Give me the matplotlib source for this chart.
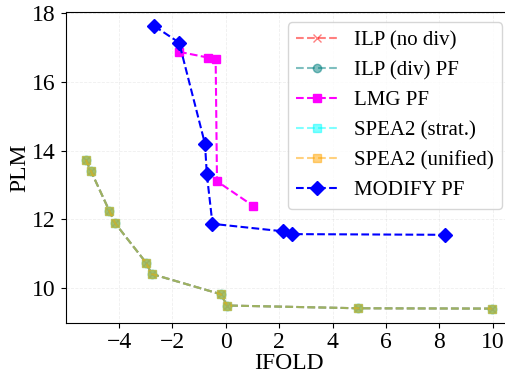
"""Recreate the PLM vs IFOLD Pareto-front comparison chart."""
import matplotlib
matplotlib.use("Agg")
import matplotlib.pyplot as plt

# shared front for the ILP / SPEA2 runs (they overlap exactly)
base_x = [-5.25, -5.05, -4.36, -4.15, -2.99, -2.78, -0.19, 0.05, 4.96, 9.99]
base_y = [13.74, 13.40, 12.24, 11.89, 10.74, 10.41, 9.82, 9.49, 9.41, 9.40]

lmg_x = [-1.75, -0.65, -0.38, -0.33, 1.01]
lmg_y = [16.88, 16.71, 16.67, 13.11, 12.40]

modify_x = [-2.68, -1.75, -0.78, -0.71, -0.50, 2.16, 2.49, 8.21]
modify_y = [17.63, 17.15, 14.20, 13.31, 11.87, 11.65, 11.57, 11.55]

x_ticks = [-4, -2, 0, 2, 4, 6, 8, 10]
y_ticks = [10, 12, 14, 16, 18]

plt.rcParams["font.family"] = ["Liberation Serif", "DejaVu Serif"]
plt.rcParams["font.size"] = 17

fig = plt.figure(figsize=(5.06, 3.74), dpi=100)
# axes runs a little past the right edge, as in the reference crop
ax = fig.add_axes([0.1298, 0.1372, 0.8834, 0.8307])

ax.plot(base_x, base_y, "--x", color="red", alpha=0.5, lw=1.5, ms=6, label="ILP (no div)")
ax.plot(base_x, base_y, "--o", color="teal", alpha=0.5, lw=1.5, ms=6, label="ILP (div) PF")
ax.plot(lmg_x, lmg_y, "--s", color="magenta", lw=1.5, ms=6, label="LMG PF")
ax.plot(base_x, base_y, "--s", color="cyan", alpha=0.5, lw=1.5, ms=6, label="SPEA2 (strat.)")
ax.plot(base_x, base_y, "--s", color="orange", alpha=0.5, lw=1.5, ms=6, label="SPEA2 (unified)")
ax.plot(modify_x, modify_y, "--D", color="blue", lw=1.5, ms=7, label="MODIFY PF")

ax.set_xlim(-6.0, 10.75)
ax.set_ylim(8.99, 18.04)
ax.set_xticks(x_ticks)
ax.set_yticks(y_ticks)
ax.set_xlabel("IFOLD", labelpad=0)
ax.set_ylabel("PLM", labelpad=1)
ax.grid(True, ls="--", lw=0.6, alpha=0.2)
ax.spines["right"].set_visible(False)
ax.legend(loc="upper right", fontsize=15, borderaxespad=0.5)

fig.savefig("out.png", dpi=100)
